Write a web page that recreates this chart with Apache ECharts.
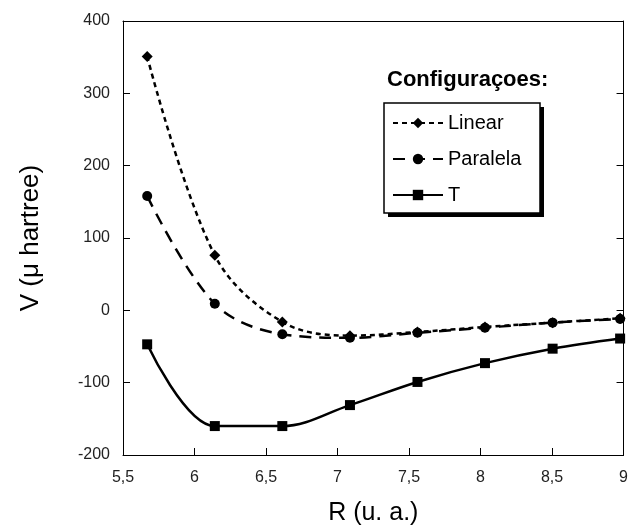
<!DOCTYPE html>
<html>
<head>
<meta charset="utf-8">
<script src="https://cdn.jsdelivr.net/npm/echarts@6/dist/echarts.min.js"></script>
<style>
  html, body { margin: 0; padding: 0; background: #fff; }
  #chart { width: 631px; height: 531px; }
</style>
</head>
<body>
<div id="chart"></div>
<script>
// Intermolecular distance R (bohr) and interaction energy V (micro-hartree)
const rValues = [5.669, 6.142, 6.614, 7.087, 7.559, 8.031, 8.504, 8.976];
const linearV = [351, 76, -16, -35, -30, -23, -17, -11];
const paralelaV = [158, 9, -33, -38, -31, -24, -17, -12];
const tV = [-47, -160, -160, -131, -99, -73, -53, -39];
const seriesNames = ['Linear', 'Paralela', 'T'];

const FONT = '"Liberation Sans", Arial, sans-serif';

function pairs(xs, ys) {
  return xs.map((x, i) => [x, ys[i]]);
}

const chart = echarts.init(document.getElementById('chart'), null, { renderer: 'canvas' });

const tickStyle = { show: true, inside: true, length: 7, lineStyle: { color: '#000', width: 1 } };
const lineAxis = { show: true, onZero: false, lineStyle: { color: '#000', width: 1 } };

chart.setOption({
  animation: false,
  backgroundColor: '#fff',
  color: ['#000', '#000', '#000'],
  title: {
    text: 'Configuraçoes:',
    left: 387,
    top: 69,
    padding: 0,
    textStyle: { fontFamily: FONT, fontSize: 22, fontWeight: 'bold', color: '#000' }
  },
  // legend frame with a solid drop shadow
  graphic: [
    {
      type: 'rect', z: 1, silent: true,
      shape: { x: 388, y: 107, width: 156, height: 110 },
      style: { fill: '#000' }
    },
    {
      type: 'rect', z: 2, silent: true,
      shape: { x: 384, y: 103, width: 156, height: 110 },
      style: { fill: '#fff', stroke: '#000', lineWidth: 1.5 }
    }
  ],
  legend: {
    data: seriesNames,
    orient: 'vertical',
    left: 392,
    top: 112,
    padding: 0,
    itemGap: 14,
    itemWidth: 50,
    itemHeight: 13,
    z: 10,
    textStyle: { fontFamily: FONT, fontSize: 20, color: '#000', lineHeight: 22 }
  },
  grid: { left: 123, top: 21, right: 4, bottom: 73, containLabel: false },
  xAxis: [
    {
      type: 'value',
      min: 5.5,
      max: 9,
      interval: 0.5,
      name: 'R (u. a.)',
      nameLocation: 'middle',
      nameGap: 46,
      nameTextStyle: { fontFamily: FONT, fontSize: 25, color: '#000' },
      axisLine: lineAxis,
      axisTick: tickStyle,
      splitLine: { show: false },
      axisLabel: {
        fontFamily: FONT, fontSize: 16, color: '#222', margin: 15,
        formatter: v => String(v).replace('.', ',')
      }
    },
    {
      type: 'value',
      position: 'top',
      min: 5.5,
      max: 9,
      interval: 0.5,
      axisLine: lineAxis,
      axisTick: { show: false },
      axisLabel: { show: false },
      splitLine: { show: false }
    }
  ],
  yAxis: [
    {
      type: 'value',
      min: -200,
      max: 400,
      interval: 100,
      name: 'V (μ hartree)',
      nameLocation: 'middle',
      nameGap: 79,
      nameTextStyle: { fontFamily: FONT, fontSize: 26, color: '#000' },
      axisLine: lineAxis,
      axisTick: tickStyle,
      splitLine: { show: false },
      axisLabel: { fontFamily: FONT, fontSize: 16, color: '#222', margin: 13 }
    },
    {
      type: 'value',
      position: 'right',
      min: -200,
      max: 400,
      interval: 100,
      axisLine: lineAxis,
      axisTick: tickStyle,
      axisLabel: { show: false },
      splitLine: { show: false }
    }
  ],
  series: [
    {
      name: seriesNames[0],
      type: 'line',
      smooth: 0.35,
      data: pairs(rValues, linearV),
      symbol: 'diamond',
      symbolSize: 11,
      itemStyle: { color: '#000' },
      lineStyle: { color: '#000', width: 2.5, type: [5, 4] },
      z: 3
    },
    {
      name: seriesNames[1],
      type: 'line',
      smooth: 0.35,
      data: pairs(rValues, paralelaV),
      symbol: 'circle',
      symbolSize: 10,
      itemStyle: { color: '#000' },
      lineStyle: { color: '#000', width: 2.5, type: [12, 8] },
      z: 2
    },
    {
      name: seriesNames[2],
      type: 'line',
      smooth: 0.35,
      data: pairs(rValues, tV),
      symbol: 'rect',
      symbolSize: 10,
      itemStyle: { color: '#000' },
      lineStyle: { color: '#000', width: 2.5 },
      z: 2
    }
  ]
});
</script>
</body>
</html>
